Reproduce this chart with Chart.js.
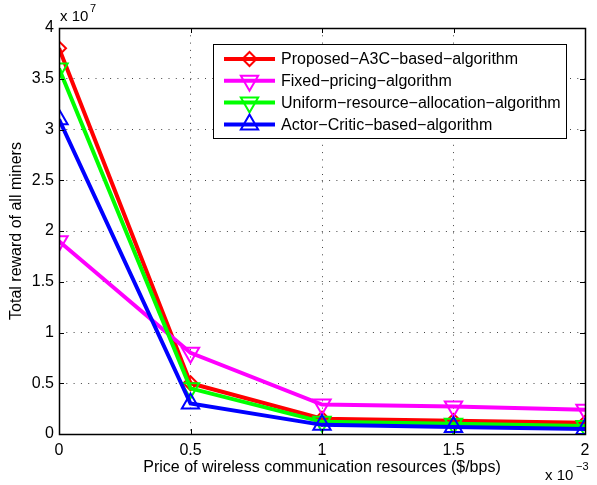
<!DOCTYPE html>
<html>
<head>
<meta charset="utf-8">
<script src="https://cdn.jsdelivr.net/npm/chart.js@4/dist/chart.umd.min.js"></script>
<style>
  html, body { margin: 0; padding: 0; background: #fff; }
  #wrap { width: 597px; height: 485px; }
</style>
</head>
<body>
<div id="wrap"><canvas id="c" width="597" height="485"></canvas></div>
<script>
// Price of wireless communication resources, in units of 1e-3 $/bps
const prices = [0, 0.5, 1, 1.5, 2];

// Total reward of all miners, in units of 1e7
const proposedA3C   = [3.8, 0.5, 0.15, 0.13, 0.11];
const fixedPricing  = [1.9, 0.8, 0.29, 0.27, 0.24];
const uniformAlloc  = [3.6, 0.45, 0.12, 0.10, 0.08];
const actorCritic   = [3.1, 0.3, 0.09, 0.07, 0.05];

const xTicks = [0, 0.5, 1, 1.5, 2];
const yTicks = [0, 0.5, 1, 1.5, 2, 2.5, 3, 3.5, 4];

const seriesNames = [
  'Proposed\u2212A3C\u2212based\u2212algorithm',
  'Fixed\u2212pricing\u2212algorithm',
  'Uniform\u2212resource\u2212allocation\u2212algorithm',
  'Actor\u2212Critic\u2212based\u2212algorithm'
];

const FONT = '"Liberation Sans", Arial, Helvetica, sans-serif';

function pts(ys) { return prices.map((x, i) => ({ x: x, y: ys[i] })); }

function ds(label, ys, color, style, rot, radius, order) {
  return {
    label: label,
    data: pts(ys),
    borderColor: color,
    backgroundColor: color,
    borderWidth: 4,
    pointStyle: style,
    rotation: rot,
    pointRadius: radius,
    pointHoverRadius: radius,
    pointBorderWidth: 2,
    pointBorderColor: color,
    pointBackgroundColor: 'rgba(0,0,0,0)',
    tension: 0,
    fill: false,
    order: order
  };
}

const datasets = [
  ds(seriesNames[0], proposedA3C,  '#ff0000', 'rectRot',  0,   7, 4),
  ds(seriesNames[1], fixedPricing, '#ff00ff', 'triangle', 180, 10, 3),
  ds(seriesNames[2], uniformAlloc, '#00ff00', 'triangle', 180, 10, 2),
  ds(seriesNames[3], actorCritic,  '#0000ff', 'triangle', 0,   10, 1)
];

// Axes box, inward ticks, exponent labels and the boxed legend
const matlabDecor = {
  id: 'matlabDecor',
  afterDraw(chart) {
    const ctx = chart.ctx;
    const a = chart.chartArea;
    const xs = chart.scales.x, ys = chart.scales.y;
    ctx.save();
    ctx.strokeStyle = '#000';
    ctx.lineWidth = 1;
    // inward ticks on all four sides
    ctx.beginPath();
    xTicks.forEach(v => {
      const px = Math.round(xs.getPixelForValue(v)) + 0.5;
      ctx.moveTo(px, a.bottom); ctx.lineTo(px, a.bottom - 5);
      ctx.moveTo(px, a.top); ctx.lineTo(px, a.top + 5);
    });
    yTicks.forEach(v => {
      const py = Math.round(ys.getPixelForValue(v)) + 0.5;
      ctx.moveTo(a.left, py); ctx.lineTo(a.left + 5, py);
      ctx.moveTo(a.right, py); ctx.lineTo(a.right - 5, py);
    });
    ctx.stroke();
    // axes box
    ctx.lineWidth = 1.5;
    ctx.strokeRect(Math.round(a.left) + 0.5, Math.round(a.top) + 0.5,
                   Math.round(a.right - a.left), Math.round(a.bottom - a.top));

    // exponent labels
    ctx.fillStyle = '#000';
    ctx.textBaseline = 'alphabetic';
    ctx.textAlign = 'left';
    ctx.font = '15px ' + FONT;
    ctx.fillText('x 10', a.left + 1, 21);
    ctx.font = '11px ' + FONT;
    ctx.fillText('7', a.left + 31, 12);
    ctx.font = '15px ' + FONT;
    ctx.fillText('x 10', 545, 480);
    ctx.font = '11px ' + FONT;
    ctx.fillText('\u22123', 576, 470);

    // legend
    const lx = 213.5, ly = 44.5, lw = 353, lh = 94;
    ctx.fillStyle = '#fff';
    ctx.fillRect(lx, ly, lw, lh);
    ctx.lineWidth = 1;
    ctx.strokeStyle = '#000';
    ctx.strokeRect(lx, ly, lw, lh);
    chart.data.datasets.forEach((d, i) => {
      const yy = 59 + i * 21.8;
      ctx.strokeStyle = d.borderColor;
      ctx.lineWidth = 4;
      ctx.beginPath();
      ctx.moveTo(224, yy); ctx.lineTo(275, yy);
      ctx.stroke();
      ctx.lineWidth = 2;
      ctx.fillStyle = 'rgba(0,0,0,0)';
      Chart.helpers.drawPoint(ctx, {
        pointStyle: d.pointStyle, rotation: d.rotation,
        radius: d.pointRadius, borderWidth: 2
      }, 249.5, yy);
      ctx.fillStyle = '#000';
      ctx.font = '16px ' + FONT;
      ctx.textBaseline = 'middle';
      ctx.fillText(d.label, 281, yy + 1);
    });
    ctx.restore();
  }
};

new Chart(document.getElementById('c'), {
  type: 'line',
  data: { datasets: datasets },
  plugins: [matlabDecor],
  options: {
    responsive: false,
    animation: false,
    devicePixelRatio: 1,
    layout: { padding: { top: 28, right: 10, left: 0, bottom: 0 } },
    plugins: { legend: { display: false }, tooltip: { enabled: false } },
    scales: {
      x: {
        type: 'linear',
        min: 0, max: 2,
        afterBuildTicks(scale) { scale.ticks = xTicks.map(v => ({ value: v })); },
        afterFit(scale) { scale.height = 51; },
        ticks: {
          color: '#000', font: { family: FONT, size: 16 }, padding: 7,
          maxRotation: 0,
          callback: v => String(v)
        },
        grid: {
          color: '#444', lineWidth: 1, drawTicks: false
        },
        border: { display: false, dash: [1, 6.3] },
        title: {
          display: true,
          text: 'Price of wireless communication resources ($/bps)',
          color: '#000', font: { family: FONT, size: 16 },
          padding: { top: 0, bottom: 8 }
        }
      },
      y: {
        type: 'linear',
        min: 0, max: 4,
        afterBuildTicks(scale) { scale.ticks = yTicks.map(v => ({ value: v })); },
        afterFit(scale) { scale.width = 59; },
        ticks: {
          color: '#000', font: { family: FONT, size: 16 }, padding: 5,
          callback: v => String(v)
        },
        grid: {
          color: '#444', lineWidth: 1, drawTicks: false
        },
        border: { display: false, dash: [1, 6.3] },
        title: {
          display: true,
          text: 'Total reward of all miners',
          color: '#000', font: { family: FONT, size: 16 },
          padding: { top: 7, bottom: 0 }
        }
      }
    }
  }
});
</script>
</body>
</html>
